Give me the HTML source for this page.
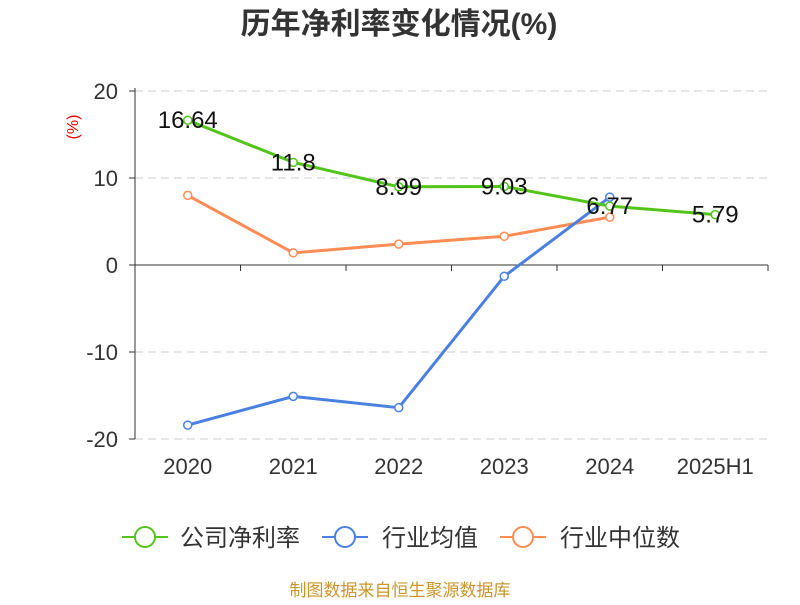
<!DOCTYPE html>
<html><head><meta charset="utf-8">
<style>
body{margin:0;background:#fff;}
svg text{font-family:"Liberation Sans","Noto Sans CJK SC",sans-serif;}
</style></head>
<body>
<svg id="chart" width="800" height="600" xmlns="http://www.w3.org/2000/svg">
<text x="399" y="34" text-anchor="middle" font-size="30" font-weight="bold" fill="#333">历年净利率变化情况(%)</text>
<text x="78" y="127" text-anchor="middle" font-size="16" fill="#e00" transform="rotate(-90 78 127)">(%)</text>
<g id="grid"></g><g id="axes"></g><g id="series"></g>
<g>
 <g>
  <line x1="122" y1="537" x2="168" y2="537" stroke="#52c41a" stroke-width="2"/><circle cx="145" cy="537" r="10" fill="#fff" stroke="#52c41a" stroke-width="2"/>
  <text x="180" y="546" font-size="24" fill="#333">公司净利率</text></g>
 <g>
  <line x1="322" y1="537" x2="368" y2="537" stroke="#4a80e0" stroke-width="2"/><circle cx="345" cy="537" r="10" fill="#fff" stroke="#4a80e0" stroke-width="2"/>
  <text x="382" y="546" font-size="24" fill="#333">行业均值</text></g>
 <g>
  <line x1="500" y1="537" x2="546" y2="537" stroke="#ff8c55" stroke-width="2"/><circle cx="523" cy="537" r="10" fill="#fff" stroke="#ff8c55" stroke-width="2"/>
  <text x="560" y="546" font-size="24" fill="#333">行业中位数</text></g>
</g>
<text x="400" y="596" text-anchor="middle" font-size="17" fill="#c8962a">制图数据来自恒生聚源数据库</text>
</svg>
<script>
const categories=["2020","2021","2022","2023","2024","2025H1"];
const companyValues=[16.64,11.8,8.99,9.03,6.77,5.79];
const companyLabels=["16.64","11.8","8.99","9.03","6.77","5.79"];
const industryAvg=[-18.4,-15.1,-16.4,-1.3,7.8];
const industryMedian=[8.0,1.4,2.4,3.3,5.5];
const yTicks=[20,10,0,-10,-20];

const NS="http://www.w3.org/2000/svg";
const x0=135,x1=768,yTop=91,yBot=439;
const bw=(x1-x0)/categories.length;
function xs(i){return x0+bw*(i+0.5);}
function ys(v){return 265-(v*(yBot-yTop)/40);}
function mk(tag,attrs,parent){const e=document.createElementNS(NS,tag);for(const k in attrs)e.setAttribute(k,attrs[k]);parent.appendChild(e);return e;}
const grid=document.getElementById('grid'),axes=document.getElementById('axes'),ser=document.getElementById('series');
yTicks.forEach(t=>{
  if(t!==0){const l=mk('line',{x1:x0,x2:x1,y1:ys(t),y2:ys(t),stroke:'#ccc','stroke-dasharray':'8,5'},grid);
  
  }
  const tl=mk('line',{x1:x0-6,x2:x0,y1:ys(t),y2:ys(t),stroke:'#333'},axes);
  
  
  const tx=mk('text',{x:x0-17,y:ys(t)+8,'text-anchor':'end','font-size':22,fill:'#333'},axes);
  tx.textContent=t;
  
  
});
const ya=mk('line',{x1:x0,x2:x0,y1:yTop-3,y2:yBot,stroke:'#333'},axes);


const xa=mk('line',{x1:x0,x2:x1,y1:ys(0),y2:ys(0),stroke:'#333'},axes);


for(let i=0;i<=categories.length;i++){
  const t=mk('line',{x1:x0+bw*i,x2:x0+bw*i,y1:ys(0),y2:ys(0)+6,stroke:'#333'},axes);
  
  
}
categories.forEach((c,i)=>{
  const t=mk('text',{x:xs(i),y:474,'text-anchor':'middle','font-size':22,fill:'#333'},axes);
  t.textContent=c;
  
  
});
function drawLine(vals,color,name){
  const g=mk('g',{},ser);
  
  
  const p=mk('polyline',{points:vals.map((v,i)=>xs(i)+','+ys(v)).join(' '),fill:'none',stroke:color,'stroke-width':3},g);
  
  
  vals.forEach((v,i)=>{
    const c=mk('circle',{cx:xs(i),cy:ys(v),r:4,fill:'#fff',stroke:color,'stroke-width':1.5},g);
    
    
  });
}
drawLine(industryMedian,'#ff8c55','industry-median');
drawLine(industryAvg,'#4a80e0','industry-avg');
drawLine(companyValues,'#52c41a','company');
companyValues.forEach((v,i)=>{
  const t=mk('text',{x:xs(i),y:ys(v)+8,'text-anchor':'middle','font-size':24,fill:'#111'},ser);
  t.textContent=companyLabels[i];
  
  
});
</script>
</body></html>
